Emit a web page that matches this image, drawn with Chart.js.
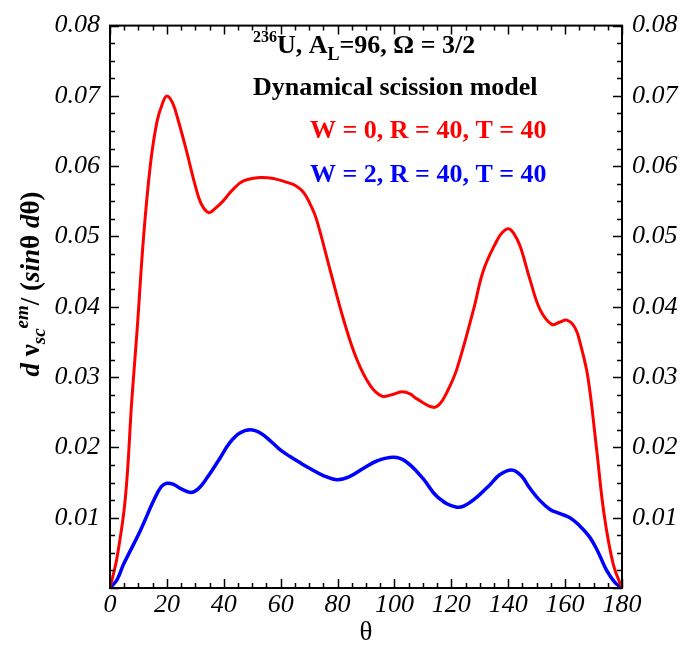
<!DOCTYPE html>
<html>
<head>
<meta charset="utf-8">
<script src="https://cdn.jsdelivr.net/npm/chart.js@4"></script>
<style>
  html, body { margin: 0; padding: 0; background: #fff; }
</style>
</head>
<body>
<canvas id="chart" width="692" height="647"></canvas>
<script>
// angle (deg) and d nu / (sin theta d theta)
var thetaRed = [0, 2.5, 5.4, 7.7, 9.5, 11.8, 14.2, 16.5, 18.5, 20, 22, 24, 27, 30, 32, 34.7, 37, 39.9, 43, 46.9,
  52.8, 58, 62.2, 65, 68, 70.5, 72.7, 77.4, 82.1, 86.8, 91.5, 95.6, 99, 102.6, 105.5, 107.9, 113.7, 116, 118.4,
  121.9, 127.8, 131.3, 136, 138, 140.1, 142, 144.2, 147.7, 151.2, 155.3, 158, 160.6, 163.5, 165.5, 168,
  171, 173.7, 176.9, 180];
var valuesRed = [0, 0.0044, 0.0128, 0.0269, 0.0365, 0.0499, 0.0602, 0.0663, 0.0690, 0.0700, 0.0690, 0.0665, 0.0620,
  0.0572, 0.0547, 0.0534, 0.0540, 0.0551, 0.0566, 0.0579, 0.0584, 0.0582, 0.0577, 0.0573, 0.0563, 0.0545, 0.0523,
  0.0452, 0.0382, 0.0325, 0.0288, 0.0273, 0.0275, 0.0279, 0.0276, 0.0269, 0.0257, 0.0262, 0.0278, 0.0311,
  0.0396, 0.0452, 0.0494, 0.0506, 0.0511, 0.0504, 0.0486, 0.0438, 0.0396, 0.0375, 0.0378, 0.0381, 0.0370, 0.0345,
  0.0300, 0.0200, 0.0105, 0.0034, 0];

var thetaBlue = [0, 2.5, 4.8, 10.6, 15.3, 18, 20, 22.5, 25, 28.4, 31, 34, 38.7, 42, 45.5, 49.3, 53, 57, 60, 63.3,
  66.9, 70.3, 75, 79.8, 84, 89, 94, 99.7, 104, 110, 115, 121.9, 127, 133.6, 137, 141.2, 144.5, 147.6, 151, 154.6,
  158, 161.7, 165, 168.7, 171.5, 174.6, 177.5, 180];
var valuesBlue = [0, 0.0012, 0.0034, 0.0081, 0.0124, 0.0144, 0.0149, 0.0147, 0.0141, 0.0136, 0.0141, 0.0156, 0.0185,
  0.0206, 0.0220, 0.0225, 0.0220, 0.0207, 0.0196, 0.0187, 0.0178, 0.0170, 0.0160, 0.0154, 0.0158, 0.0170, 0.0181,
  0.0186, 0.0180, 0.0156, 0.0130, 0.0115, 0.0123, 0.0147, 0.0161, 0.0168, 0.0160, 0.0142, 0.0125, 0.0112, 0.0106,
  0.0100, 0.0089, 0.0072, 0.0052, 0.0025, 0.0008, 0];

var xTicks = [0, 20, 40, 60, 80, 100, 120, 140, 160, 180];
var yTicks = [0.01, 0.02, 0.03, 0.04, 0.05, 0.06, 0.07, 0.08];

var serif = '"Liberation Serif", "Times New Roman", serif';

function toPoints(xs, ys) {
  return xs.map(function (x, i) { return { x: x, y: ys[i] }; });
}

function yLabel(v) {
  for (var i = 0; i < yTicks.length; i++) {
    if (Math.abs(yTicks[i] - v) < 1e-9) return yTicks[i].toFixed(2);
  }
  return '';
}

// draw text made of several pieces (sub/superscripts)
function drawRuns(ctx, runs, x, y) {
  var cx = x;
  runs.forEach(function (r) {
    ctx.font = r.f;
    ctx.fillStyle = r.c || '#000';
    ctx.fillText(r.t, cx, y + (r.dy || 0));
    cx += ctx.measureText(r.t).width;
  });
}
function runsWidth(ctx, runs) {
  var w = 0;
  runs.forEach(function (r) { ctx.font = r.f; w += ctx.measureText(r.t).width; });
  return w;
}

var framePlugin = {
  id: 'frame',
  afterDraw: function (chart) {
    var ctx = chart.ctx;
    var a = chart.chartArea;
    var xs = chart.scales.x, ys = chart.scales.y;
    ctx.save();
    ctx.strokeStyle = '#000';
    ctx.lineWidth = 2;
    ctx.strokeRect(a.left, a.top, a.right - a.left, a.bottom - a.top);

    // inward ticks on all four sides
    ctx.lineWidth = 1.5;
    ctx.beginPath();
    for (var t = 0; t <= 180; t += 5) {
      var px = Math.round(xs.getPixelForValue(t)) + 0.5;
      var len = t % 20 === 0 ? 9 : 5;
      ctx.moveTo(px, a.bottom); ctx.lineTo(px, a.bottom - len);
      ctx.moveTo(px, a.top); ctx.lineTo(px, a.top + len);
    }
    for (var i = 0; i <= 32; i++) {
      var py = Math.round(ys.getPixelForValue(i * 0.0025)) + 0.5;
      var l = i % 4 === 0 ? 9 : 5;
      ctx.moveTo(a.left, py); ctx.lineTo(a.left + l, py);
      ctx.moveTo(a.right, py); ctx.lineTo(a.right - l, py);
    }
    ctx.stroke();

    // annotations
    ctx.textAlign = 'left';
    ctx.textBaseline = 'alphabetic';
    var b26 = 'bold 26px ' + serif;
    var b16 = 'bold 16px ' + serif;
    var b18 = 'bold 18px ' + serif;
    drawRuns(ctx, [
      { t: '236', f: b16, dy: -11 },
      { t: 'U, A', f: b26 },
      { t: 'L', f: b18, dy: 7 },
      { t: '=96, \u03A9 = 3/2', f: b26 }
    ], 253, 53);
    drawRuns(ctx, [{ t: 'Dynamical scission model', f: b26 }], 253, 95);
    drawRuns(ctx, [{ t: 'W = 0, R = 40, T = 40', f: b26, c: '#ff0000' }], 310, 138);
    drawRuns(ctx, [{ t: 'W = 2, R = 40, T = 40', f: b26, c: '#0000ff' }], 310, 182);

    // rotated y title
    var bi = 'italic bold 27px ' + serif;
    var bs = 'italic bold 19px ' + serif;
    var bu = 'bold 27px ' + serif;
    var yRuns = [
      { t: 'd ', f: bi },
      { t: '\u03BD', f: bu },
      { t: 'sc', f: bs, dy: 6 },
      { t: 'em', f: bs, dy: -11 },
      { t: '/ (', f: bu },
      { t: 'sin', f: bi },
      { t: '\u03B8', f: bu },
      { t: ' d', f: bi },
      { t: '\u03B8', f: bu },
      { t: ')', f: bu }
    ];
    var w = runsWidth(ctx, yRuns);
    ctx.translate(39, 284);
    ctx.rotate(-Math.PI / 2);
    drawRuns(ctx, yRuns, -w / 2, 0);
    ctx.restore();
  }
};

var tickFont = { family: serif, size: 26, style: 'italic' };

new Chart(document.getElementById('chart'), {
  type: 'line',
  data: {
    datasets: [{
      label: 'W = 0, R = 40, T = 40',
      data: toPoints(thetaRed, valuesRed),
      borderColor: '#ff0000',
      borderWidth: 3,
      pointRadius: 0,
      tension: 0.4,
      fill: false
    }, {
      label: 'W = 2, R = 40, T = 40',
      data: toPoints(thetaBlue, valuesBlue),
      borderColor: '#0000ff',
      borderWidth: 3.5,
      pointRadius: 0,
      tension: 0.4,
      fill: false
    }]
  },
  options: {
    responsive: false,
    animation: false,
    layout: { padding: { top: 19, left: 0, right: 0, bottom: 0 } },
    plugins: {
      legend: { display: false },
      tooltip: { enabled: false }
    },
    scales: {
      x: {
        type: 'linear',
        min: 0,
        max: 180,
        afterBuildTicks: function (s) { s.ticks = xTicks.map(function (v) { return { value: v }; }); },
        afterFit: function (s) { s.height = 59; },
        grid: { display: false, drawTicks: false },
        border: { display: false },
        ticks: { color: '#000', font: tickFont, padding: 2, maxRotation: 0, autoSkip: false },
        title: { display: true, text: '\u03B8', color: '#000', font: { family: serif, size: 27 }, padding: { top: 0, bottom: -2 } }
      },
      y: {
        type: 'linear',
        position: 'left',
        min: 0,
        max: 0.08,
        afterBuildTicks: function (s) { s.ticks = yTicks.map(function (v) { return { value: v }; }); },
        afterFit: function (s) { s.width = 110; },
        grid: { display: false, drawTicks: false },
        border: { display: false },
        ticks: { color: '#000', font: tickFont, padding: 10, callback: yLabel }
      },
      y2: {
        type: 'linear',
        position: 'right',
        min: 0,
        max: 0.08,
        afterBuildTicks: function (s) { s.ticks = yTicks.map(function (v) { return { value: v }; }); },
        afterFit: function (s) { s.width = 70; },
        grid: { display: false, drawTicks: false },
        border: { display: false },
        ticks: { color: '#000', font: tickFont, padding: 10, callback: yLabel }
      }
    }
  },
  plugins: [framePlugin]
});
</script>
</body>
</html>
